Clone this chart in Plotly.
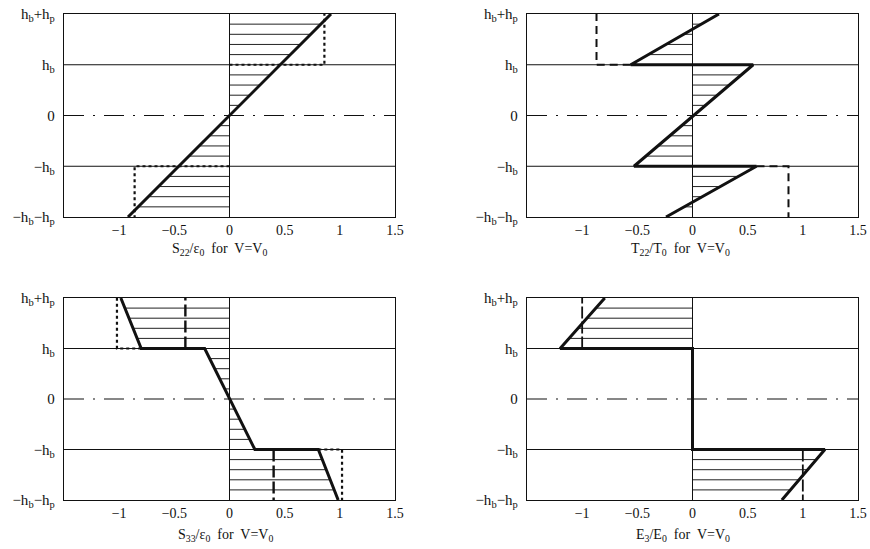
import numpy as np
import plotly.graph_objects as go

# ---------------- data ----------------
y_ticks = [-2, -1, 0, 1, 2]
y_ticktext = ["−h<sub>b</sub>−h<sub>p</sub>", "−h<sub>b</sub>", "0", "h<sub>b</sub>", "h<sub>b</sub>+h<sub>p</sub>"]
x_ticks = [-1, -0.5, 0, 0.5, 1, 1.5]
x_ticktext = ["−1", "−0.5", "0", "0.5", "1", "1.5"]
hatch_levels = [-1.8, -1.6, -1.4, -1.2, -0.8, -0.6, -0.4, -0.2,
                0.2, 0.4, 0.6, 0.8, 1.2, 1.4, 1.6, 1.8]

titles = [
    "S<sub>22</sub>/ε<sub>0</sub>  for  V=V<sub>0</sub>",
    "T<sub>22</sub>/T<sub>0</sub>  for  V=V<sub>0</sub>",
    "S<sub>33</sub>/ε<sub>0</sub>  for  V=V<sub>0</sub>",
    "E<sub>3</sub>/E<sub>0</sub>  for  V=V<sub>0</sub>",
]

# main thick curves (x value, height)
s22_x = [-0.92, 0.92]
s22_y = [-2, 2]
t22_x = [-0.24, 0.58, -0.53, 0.55, -0.56, 0.24]
t22_y = [-2, -1, -1, 1, 1, 2]
s33_x = [0.985, 0.805, 0.23, -0.225, -0.80, -0.985]
s33_y = [-2, -1, -1, 1, 1, 2]
e3_x = [0.81, 1.2, 0.0, 0.0, -1.2, -0.795]
e3_y = [-2, -1, -1, 1, 1, 2]

# reference (secondary) lines
s22_ref = [([0, 0.86, 0.86], [1, 1, 2]), ([0, -0.86, -0.86], [-1, -1, -2])]
t22_ref = [([-0.56, -0.87, -0.87], [1, 1, 2]), ([0.58, 0.87, 0.87], [-1, -1, -2])]
s33_ref = [([-0.80, -1.02, -1.02], [1, 1, 2]), ([0.805, 1.02, 1.02], [-1, -1, -2])]
s33_ref2 = [([-0.4, -0.4], [1, 2]), ([0.4, 0.4], [-1, -2])]
e3_ref = [([-1.0, -1.0], [1, 2]), ([1.0, 1.0], [-1, -2])]

# ---------------- layout geometry ----------------
W, H = 870, 549
xdom = [[64 / W, 395 / W], [527 / W, 858 / W]]
ydom = [[1 - 217 / H, 1 - 14 / H], [1 - 500 / H, 1 - 298 / H]]
title_cx = [219 / W, 680 / W, 225 / W, 683 / W]
title_shift = [-22, -22, -25, -25]

panels = [
    dict(curve=(s22_x, s22_y), refs=[(s22_ref, "dot", 2.2)], col=0, row=0),
    dict(curve=(t22_x, t22_y), refs=[(t22_ref, "8px,5px", 2.0)], col=1, row=0),
    dict(curve=(s33_x, s33_y), refs=[(s33_ref, "dot", 2.2), (s33_ref2, "12px,4px", 2.4)], col=0, row=1),
    dict(curve=(e3_x, e3_y), refs=[(e3_ref, "12px,3px", 1.8)], col=1, row=1),
]

fig = go.Figure()
FONT = "Liberation Serif, Times New Roman, serif"

for i, p in enumerate(panels):
    n = i + 1
    xa = "x" if n == 1 else f"x{n}"
    ya = "y" if n == 1 else f"y{n}"
    cx, cy = p["curve"]
    cx = np.array(cx, float)
    cy = np.array(cy, float)

    # horizontal hatching between x=0 and the curve
    hx, hy = [], []
    for lv in hatch_levels:
        for k in range(len(cy) - 1):
            y0, y1 = cy[k], cy[k + 1]
            if y0 != y1 and min(y0, y1) <= lv <= max(y0, y1):
                t = (lv - y0) / (y1 - y0)
                xv = cx[k] + t * (cx[k + 1] - cx[k])
                hx += [0, xv, None]
                hy += [lv, lv, None]
                break
    fig.add_trace(go.Scatter(x=hx, y=hy, mode="lines", xaxis=xa, yaxis=ya,
                             line=dict(color="#222", width=1), hoverinfo="skip", showlegend=False))

    # horizontal solid lines at ±hb and zero dash-dot
    fig.add_trace(go.Scatter(x=[-1.5, 1.5, None, -1.5, 1.5], y=[1, 1, None, -1, -1], mode="lines",
                             xaxis=xa, yaxis=ya, line=dict(color="#111", width=1),
                             hoverinfo="skip", showlegend=False))
    fig.add_trace(go.Scatter(x=[-1.5, 1.5], y=[0, 0], mode="lines", xaxis=xa, yaxis=ya,
                             line=dict(color="#111", width=1.2, dash="20px,9px,2px,9px"),
                             hoverinfo="skip", showlegend=False))
    # vertical line at 0
    fig.add_trace(go.Scatter(x=[0, 0], y=[-2, 2], mode="lines", xaxis=xa, yaxis=ya,
                             line=dict(color="#111", width=1), hoverinfo="skip", showlegend=False))

    # reference lines
    for refs, dash, w in p["refs"]:
        for rx, ry in refs:
            fig.add_trace(go.Scatter(x=rx, y=ry, mode="lines", xaxis=xa, yaxis=ya,
                                     line=dict(color="#111", width=w, dash=dash),
                                     hoverinfo="skip", showlegend=False))

    # main thick curve
    fig.add_trace(go.Scatter(x=cx, y=cy, mode="lines", xaxis=xa, yaxis=ya,
                             line=dict(color="#111", width=3), hoverinfo="skip", showlegend=False))

    xkey = "xaxis" if n == 1 else f"xaxis{n}"
    ykey = "yaxis" if n == 1 else f"yaxis{n}"
    fig.layout[xkey] = dict(domain=xdom[p["col"]], range=[-1.5, 1.5], anchor=ya,
                            tickvals=x_ticks, ticktext=x_ticktext, showgrid=False, zeroline=False,
                            showline=True, mirror=True, linecolor="#111", linewidth=1.3,
                            ticks="", tickfont=dict(family=FONT, size=14, color="#111"),
                            automargin=False, fixedrange=True)
    fig.layout[ykey] = dict(domain=ydom[p["row"]], range=[-2, 2], anchor=xa,
                            tickvals=y_ticks, ticktext=y_ticktext, showgrid=False, zeroline=False,
                            showline=True, mirror=True, linecolor="#111", linewidth=1.3,
                            ticks="", tickfont=dict(family=FONT, size=15, color="#111"),
                            ticklabelstandoff=5,
                            automargin=False, fixedrange=True)

    # x-axis title as annotation
    fig.add_annotation(text=titles[i], x=title_cx[i], y=ydom[p["row"]][0], xref="paper", yref="paper",
                       xanchor="center", yanchor="top", yshift=title_shift[i], showarrow=False,
                       font=dict(family=FONT, size=14, color="#111"))

fig.update_layout(width=W, height=H, margin=dict(l=0, r=0, t=0, b=0),
                  paper_bgcolor="white", plot_bgcolor="white", showlegend=False)

fig.write_html("out.html", config={"displayModeBar": False})

# remove default page margin so the figure sits at the window's top-left corner
with open("out.html", "r", encoding="utf-8") as f:
    html = f.read()
html = html.replace("<head>", "<head><style>html,body{margin:0;padding:0;overflow:hidden;}</style>", 1)
with open("out.html", "w", encoding="utf-8") as f:
    f.write(html)
